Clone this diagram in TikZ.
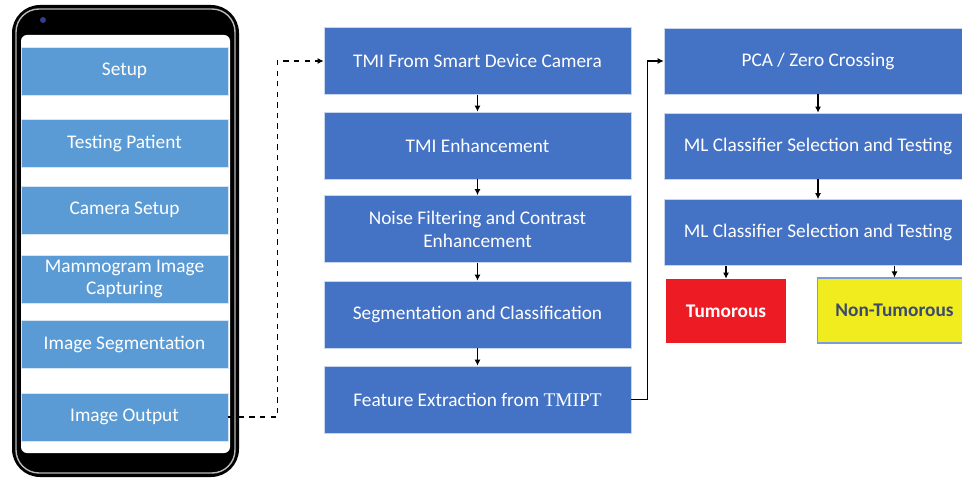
\documentclass[tikz,border=0pt]{standalone}
\usepackage{fontspec}
\setmainfont{Carlito}
\newfontfamily\tmifont{Liberation Serif}
\usetikzlibrary{arrows.meta,positioning}
\definecolor{appblue}{HTML}{5B9BD5}
\definecolor{stageblue}{HTML}{4472C4}
\definecolor{tumred}{HTML}{ED1C24}
\definecolor{nontumyellow}{HTML}{F0EC1E}
\definecolor{nontumtext}{HTML}{3B4A6E}
\definecolor{camblue}{HTML}{2E3F8F}

\begin{document}
\begin{tikzpicture}[
    x=0.02cm, y=-0.02cm,
    every node/.style={font=\fontsize{11}{13}\selectfont, text=white, align=center},
    appbox/.style={fill=appblue, draw=white!75!appblue, line width=0.4pt, minimum width=4.14cm, minimum height=0.96cm, inner sep=0pt},
    stagebox/.style={fill=stageblue, draw=white!70!stageblue, line width=0.4pt, minimum width=6.14cm, minimum height=1.34cm, inner sep=0pt},
    mlbox/.style={stagebox, minimum width=6.16cm, minimum height=1.32cm},
    flow/.style={-{Latex[length=3.5pt,width=3.5pt]}, line width=0.6pt}
]
\useasboundingbox (0,0) rectangle (962,479);
\clip (0,0) rectangle (962,479);

% phone
\fill[black, rounded corners=0.56cm] (12,5) rectangle (239,477);
\draw[gray!55, line width=0.8pt, rounded corners=0.46cm] (16,9) rectangle (235,473);
\fill[white, rounded corners=0.12cm] (21,35) rectangle (230,453);
\fill[camblue] (43,20) circle (0.06cm);

\foreach \nm/\yy/\txt in {setup/71/Setup, patient/143/Testing Patient, camera/210/Camera Setup,
    capture/279/{Mammogram Image\\Capturing}, imgseg/344.5/Image Segmentation, output/417/Image Output} {
    \node[appbox] (\nm) at (124.5,\yy) {\txt};
}

\node[stagebox] (tmicam) at (477.5,61) {TMI From Smart Device Camera};
\node[stagebox] (tmienh) at (477.5,145.5) {TMI Enhancement};
\node[stagebox] (noise) at (477.5,229) {Noise Filtering and Contrast\\Enhancement};
\node[stagebox] (segcls) at (477.5,314.5) {Segmentation and Classification};
\node[stagebox] (feat) at (477.5,399.5) {Feature Extraction from {\tmifont TMIPT}};

\node[mlbox] (pca) at (818,61) {PCA / Zero Crossing};
\node[mlbox] (mlsel) at (818,146) {ML Classifier Selection and Testing};
\node[mlbox] (mltest) at (818,232.5) {ML Classifier Selection and Testing};

\node[fill=tumred, minimum width=2.4cm, minimum height=1.28cm, inner sep=0pt, font=\fontsize{11}{13}\selectfont\bfseries] (tum) at (726,311) {Tumorous};
\node[fill=nontumyellow, draw=stageblue!70, line width=0.6pt, minimum width=3.1cm, minimum height=1.3cm, inner sep=0pt, text=nontumtext, font=\fontsize{11}{13}\selectfont\bfseries] (nontum) at (894.5,310.5) {Non-Tumorous};

\draw[flow, dashed, line width=0.8pt] (output.east) -- ++(49,0) |- (tmicam.west);
\draw[flow] (tmicam) -- (tmienh);
\draw[flow] (tmienh) -- (noise);
\draw[flow] (noise) -- (segcls);
\draw[flow] (segcls) -- (feat);
\draw[flow] (feat.east) -- ++(16,0) |- (pca.west);
\draw[flow] (pca) -- (mlsel);
\draw[flow] (mlsel) -- (mltest);
\draw[flow] (mltest.south -| tum) -- (tum);
\draw[flow] (mltest.south -| nontum) -- (nontum);
\end{tikzpicture}
\end{document}
